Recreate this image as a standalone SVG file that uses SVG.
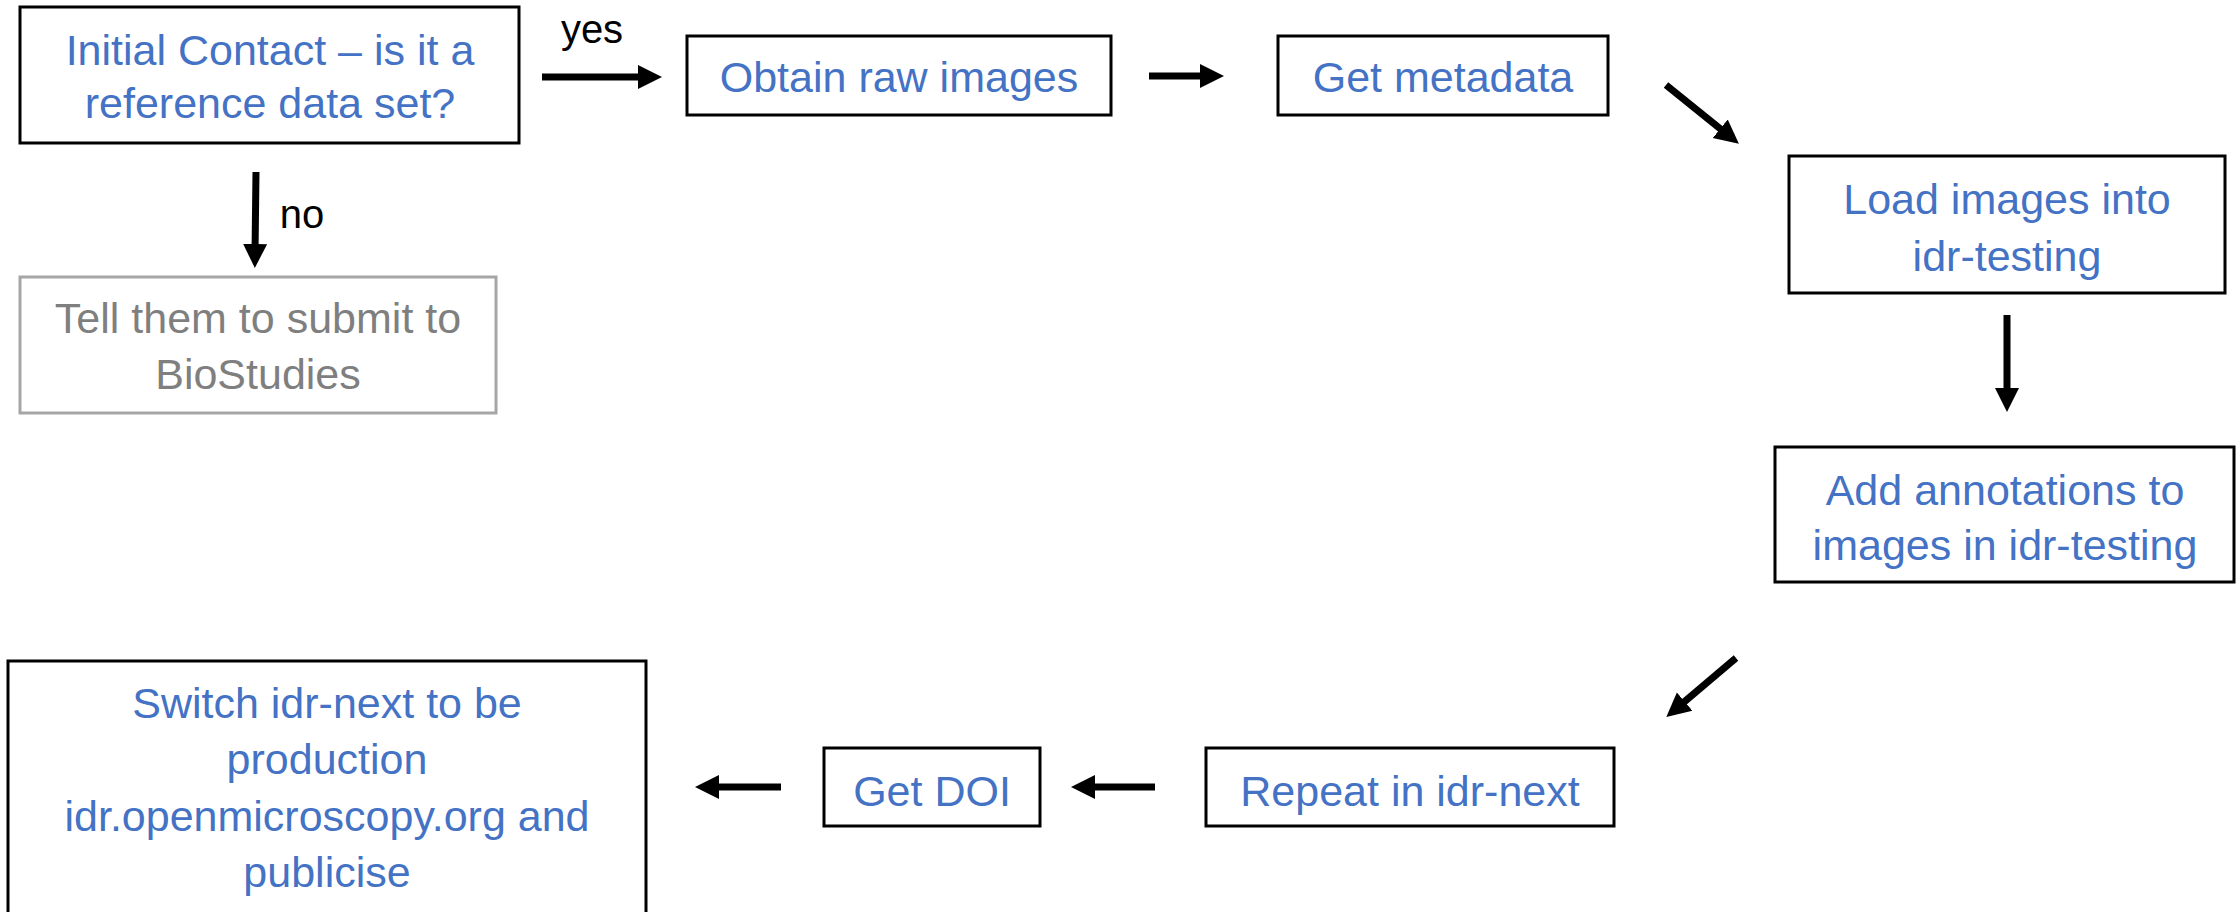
<svg xmlns="http://www.w3.org/2000/svg" width="2236" height="912" viewBox="0 0 2236 912">
<style>
.box{fill:#fff;stroke:#000;stroke-width:3}
.gbox{fill:#fff;stroke:#a6a6a6;stroke-width:3}
.t{font-family:"Liberation Sans",Arial,sans-serif;font-size:43px;fill:#4472c4;text-anchor:middle}
.g{fill:#7f7f7f}
.lbl{font-family:"Liberation Sans",Arial,sans-serif;font-size:40px;fill:#000;text-anchor:middle}
.arr{stroke:#000;stroke-width:7;fill:none;marker-end:url(#ah)}
</style>
<defs>
<marker id="ah" markerUnits="userSpaceOnUse" markerWidth="26" markerHeight="26" viewBox="0 0 26 26" refX="10" refY="13" orient="auto">
<path d="M0,1 L24,13 L0,25 Z" fill="#000"/>
</marker>
</defs>
<rect width="2236" height="912" fill="#fff"/>
<g id="connectors">
<line class="arr" x1="542" y1="77" x2="648" y2="77"/>
<line class="arr" x1="1149" y1="76" x2="1210" y2="76"/>
<line class="arr" x1="1666" y1="85" x2="1728" y2="135"/>
<line class="arr" x1="2007" y1="315" x2="2007" y2="398"/>
<line class="arr" x1="1736" y1="658" x2="1677" y2="708"/>
<line class="arr" x1="1155" y1="787" x2="1085" y2="787"/>
<line class="arr" x1="781" y1="787" x2="709" y2="787"/>
<line class="arr" x1="256" y1="172" x2="255" y2="254"/>
<text class="lbl" x="592" y="43">yes</text>
<text class="lbl" x="302" y="228">no</text>
</g>
<g id="n1">
<rect class="box" x="20" y="7" width="499" height="136"/>
<text class="t" x="270" y="65">Initial Contact – is it a</text>
<text class="t" x="270" y="118">reference data set?</text>
</g>
<g id="n2">
<rect class="box" x="687" y="36" width="424" height="79"/>
<text class="t" x="899" y="92">Obtain raw images</text>
</g>
<g id="n3">
<rect class="box" x="1278" y="36" width="330" height="79"/>
<text class="t" x="1443" y="92">Get metadata</text>
</g>
<g id="n4">
<rect class="box" x="1789" y="156" width="436" height="137"/>
<text class="t" x="2007" y="214">Load images into</text>
<text class="t" x="2007" y="271">idr-testing</text>
</g>
<g id="n5">
<rect class="box" x="1775" y="447" width="459" height="135"/>
<text class="t" x="2005" y="505">Add annotations to</text>
<text class="t" x="2005" y="560">images in idr-testing</text>
</g>
<g id="n6">
<rect class="box" x="1206" y="748" width="408" height="78"/>
<text class="t" x="1410" y="806">Repeat in idr-next</text>
</g>
<g id="n7">
<rect class="box" x="824" y="748" width="216" height="78"/>
<text class="t" x="932" y="806">Get DOI</text>
</g>
<g id="n8">
<rect class="box" x="8" y="661" width="638" height="270"/>
<text class="t" x="327" y="718">Switch idr-next to be</text>
<text class="t" x="327" y="774">production</text>
<text class="t" x="327" y="831">idr.openmicroscopy.org and</text>
<text class="t" x="327" y="887">publicise</text>
</g>
<g id="n9">
<rect class="gbox" x="20" y="277" width="476" height="136"/>
<text class="t g" x="258" y="333">Tell them to submit to</text>
<text class="t g" x="258" y="389">BioStudies</text>
</g>
</svg>
